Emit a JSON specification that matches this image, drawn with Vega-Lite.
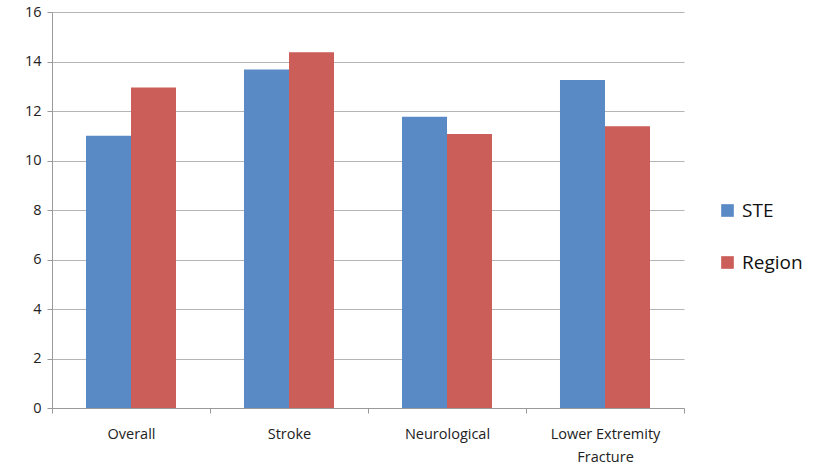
{
  "$schema": "https://vega.github.io/schema/vega-lite/v6.json",
  "width": 632,
  "height": 396,
  "autosize": {"type": "none"},
  "padding": {"left": 52, "top": 12, "right": 151, "bottom": 61},
  "background": "white",
  "config": {
    "view": {"stroke": null},
    "font": "Open Sans"
  },
  "data": {
    "values": [
      {"category": "Overall", "series": "STE", "value": 11.0},
      {"category": "Overall", "series": "Region", "value": 12.95},
      {"category": "Stroke", "series": "STE", "value": 13.68},
      {"category": "Stroke", "series": "Region", "value": 14.37},
      {"category": "Neurological", "series": "STE", "value": 11.77},
      {"category": "Neurological", "series": "Region", "value": 11.07},
      {"category": "Lower Extremity Fracture", "series": "STE", "value": 13.25},
      {"category": "Lower Extremity Fracture", "series": "Region", "value": 11.38}
    ]
  },
  "mark": {"type": "bar"},
  "encoding": {
    "x": {
      "field": "category",
      "type": "nominal",
      "sort": ["Overall", "Stroke", "Neurological", "Lower Extremity Fracture"],
      "scale": {"paddingInner": 0, "paddingOuter": 0},
      "axis": {
        "title": null,
        "labelAngle": 0,
        "labelFontSize": 14.5,
        "labelColor": "#222",
        "labelPadding": 14,
        "labelLineHeight": 23,
        "tickBand": "extent",
        "tickColor": "#999",
        "tickSize": 5,
        "domainColor": "#999",
        "labelExpr": "datum.value == 'Lower Extremity Fracture' ? ['Lower Extremity', 'Fracture'] : datum.value"
      }
    },
    "xOffset": {"field": "series", "sort": ["STE", "Region"], "scale": {"paddingInner": 0, "paddingOuter": 0.755}},
    "y": {
      "field": "value",
      "type": "quantitative",
      "scale": {"domain": [0, 16]},
      "axis": {
        "title": null,
        "values": [0, 2, 4, 6, 8, 10, 12, 14, 16],
        "labelFontSize": 14.5,
        "labelColor": "#222",
        "labelPadding": 6,
        "tickColor": "#999",
        "tickSize": 5,
        "domainColor": "#999",
        "gridColor": "#b5b5b5",
        "gridWidth": 1.2
      }
    },
    "color": {
      "field": "series",
      "type": "nominal",
      "sort": ["STE", "Region"],
      "scale": {"domain": ["STE", "Region"], "range": ["#5A8AC6", "#CB5E59"]},
      "legend": {
        "title": null,
        "orient": "none",
        "legendX": 666,
        "legendY": 189,
        "symbolType": "square",
        "symbolSize": 160,
        "labelFontSize": 19,
        "labelColor": "#111",
        "rowPadding": 32,
        "labelOffset": 5
      }
    }
  }
}
